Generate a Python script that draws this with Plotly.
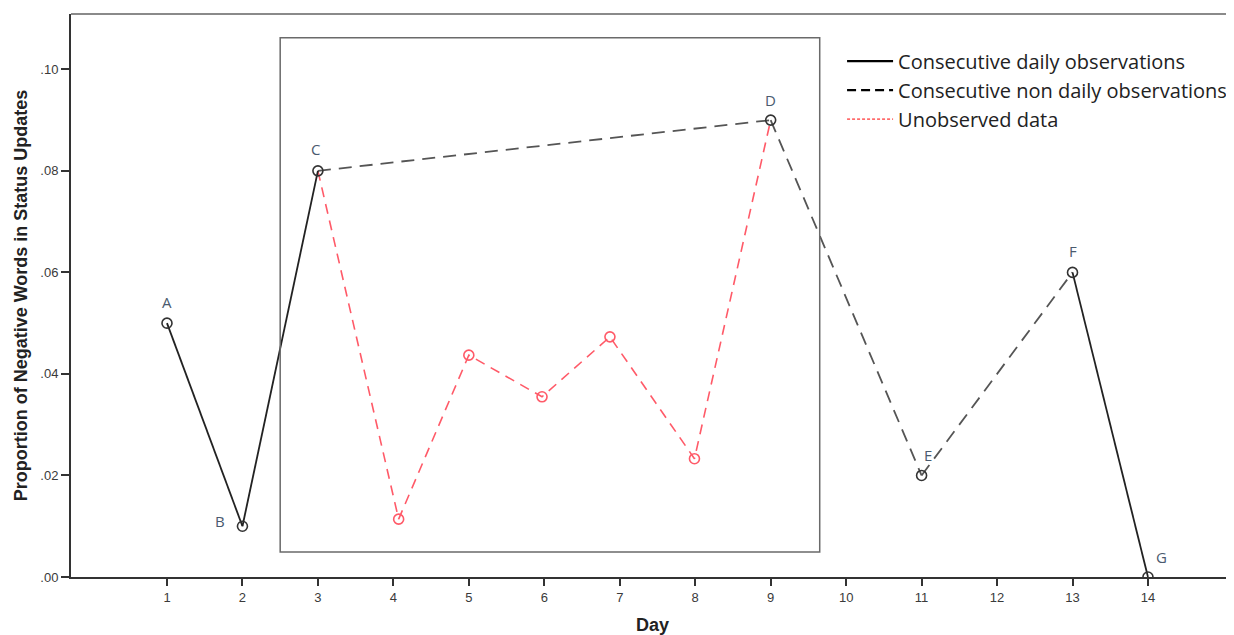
import plotly.graph_objects as go

# ---- data ----
obs_days = [1, 2, 3, 9, 11, 13, 14]
obs_values = [0.05, 0.01, 0.08, 0.09, 0.02, 0.06, 0.0]
obs_labels = ["A", "B", "C", "D", "E", "F", "G"]

unobs_days = [4.07, 5.0, 5.97, 6.87, 7.99]
unobs_values = [0.0114, 0.0437, 0.0355, 0.0473, 0.0233]

x_ticks = list(range(1, 15))
y_tickvals = [0.0, 0.02, 0.04, 0.06, 0.08, 0.10]
y_ticktext = [".00", ".02", ".04", ".06", ".08", ".10"]

# ---- build segments ----
solid_x, solid_y, dash_x, dash_y = [], [], [], []
for i in range(len(obs_days) - 1):
    seg_x = [obs_days[i], obs_days[i + 1], None]
    seg_y = [obs_values[i], obs_values[i + 1], None]
    if obs_days[i + 1] - obs_days[i] == 1:
        solid_x += seg_x
        solid_y += seg_y
    else:
        dash_x += seg_x
        dash_y += seg_y

# red path: C -> unobserved -> D
ci = obs_labels.index("C")
di = obs_labels.index("D")
red_x = [obs_days[ci]] + unobs_days + [obs_days[di]]
red_y = [obs_values[ci]] + unobs_values + [obs_values[di]]

fig = go.Figure()

fig.add_trace(go.Scatter(x=red_x, y=red_y, mode="lines", showlegend=False,
                         line=dict(color="#ff5a68", width=1.6, dash="10px,7px"),
                         hoverinfo="skip"))
fig.add_trace(go.Scatter(x=unobs_days, y=unobs_values, mode="markers", showlegend=False,
                         marker=dict(symbol="circle-open", size=10, color="#ff5a68",
                                     line=dict(width=1.6))))
fig.add_trace(go.Scatter(x=dash_x, y=dash_y, mode="lines", showlegend=False,
                         line=dict(color="#555555", width=1.8, dash="13px,8px")))
fig.add_trace(go.Scatter(x=solid_x, y=solid_y, mode="lines", showlegend=False,
                         line=dict(color="#222222", width=1.8)))
fig.add_trace(go.Scatter(x=obs_days, y=obs_values, mode="markers", showlegend=False,
                         marker=dict(symbol="circle-open", size=10, color="#333333",
                                     line=dict(width=1.6))))

# legend entries
fig.add_trace(go.Scatter(x=[None], y=[None], mode="lines", name="Consecutive daily observations",
                         line=dict(color="black", width=2.4)))
fig.add_trace(go.Scatter(x=[None], y=[None], mode="lines", name="Consecutive non daily observations",
                         line=dict(color="black", width=2.4, dash="9px,5px")))
fig.add_trace(go.Scatter(x=[None], y=[None], mode="lines", name="Unobserved data",
                         line=dict(color="red", width=1, dash="3px,2px")))

# point labels
label_shift = {"A": (0, 21), "B": (-22, 5), "C": (-2, 22), "D": (0, 20),
               "E": (6, 20), "F": (0, 21), "G": (14, 20)}
for d, v, lab in zip(obs_days, obs_values, obs_labels):
    dx, dy = label_shift[lab]
    fig.add_annotation(x=d, y=v, text=lab, showarrow=False, xshift=dx, yshift=dy,
                       font=dict(family="Open Sans, Lato, sans-serif", size=15, color="#4a5a6e"))

# highlight box
fig.add_shape(type="rect", xref="x", yref="y", x0=2.5, x1=9.65, y0=0.0049, y1=0.1062,
              line=dict(color="#6a6a6a", width=1.5), fillcolor="rgba(0,0,0,0)")
# top border
fig.add_shape(type="line", xref="paper", yref="paper", x0=0, x1=1, y0=1, y1=1,
              line=dict(color="#8a8a8a", width=2))

fig.update_layout(
    width=1226, height=627,
    margin=dict(l=63, r=0, t=6, b=58),
    paper_bgcolor="white", plot_bgcolor="white",
    legend=dict(x=0.663, y=0.951, xanchor="left", yanchor="top", itemwidth=46,
                font=dict(family="Open Sans, Lato, sans-serif", size=20, color="#222"),
                bgcolor="rgba(0,0,0,0)", tracegroupgap=0),
    xaxis=dict(range=[-0.272, 15.14], tickvals=x_ticks, ticktext=[str(t) for t in x_ticks],
               showgrid=False, zeroline=False, showline=True, linecolor="#333", linewidth=2,
               ticks="outside", ticklen=7, tickwidth=2, tickcolor="#333",
               tickfont=dict(family="Arial, Liberation Sans, sans-serif", size=13, color="#3a3a3a"),
               title=dict(text="<b>Day</b>", standoff=15,
                          font=dict(family="Arial, Liberation Sans, sans-serif", size=18, color="#222"))),
    yaxis=dict(range=[0, 0.1109], tickvals=y_tickvals, ticktext=y_ticktext,
               showgrid=False, zeroline=False, showline=True, linecolor="#333", linewidth=2,
               ticks="outside", ticklen=8, tickwidth=2, tickcolor="#333",
               tickfont=dict(family="Arial, Liberation Sans, sans-serif", size=13, color="#3a3a3a"),
               title=dict(text="<b>Proportion of Negative Words in Status Updates</b>", standoff=8,
                          font=dict(family="Arial, Liberation Sans, sans-serif", size=18, color="#222"))),
)

fig.write_html("out.html")
